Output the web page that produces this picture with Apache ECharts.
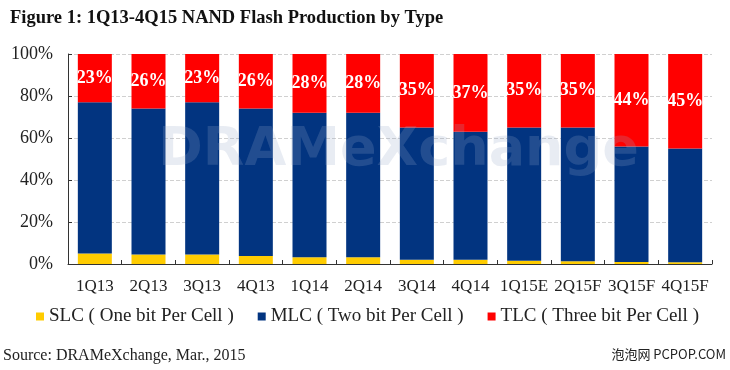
<!DOCTYPE html>
<html>
<head>
<meta charset="utf-8">
<script src="https://cdn.jsdelivr.net/npm/echarts@6/dist/echarts.min.js"></script>
<style>
html,body{margin:0;padding:0;background:#fff;}
#c{width:730px;height:370px;}
</style>
</head>
<body>
<div id="c"></div>
<script>
const categories = ['1Q13','2Q13','3Q13','4Q13','1Q14','2Q14','3Q14','4Q14','1Q15E','2Q15F','3Q15F','4Q15F'];
const slc = [5, 4.5, 4.5, 3.8, 3.2, 3.2, 2, 2, 1.5, 1.3, 1, 0.8];
const mlc = [72, 69.5, 72.5, 70.2, 68.8, 68.8, 63, 61, 63.5, 63.7, 55, 54.2];
const tlc = [23, 26, 23, 26, 28, 28, 35, 37, 35, 35, 44, 45];
const yTicks = [0, 20, 40, 60, 80, 100];
const seriesNames = ['SLC ( One bit Per Cell )', 'MLC ( Two bit Per Cell )', 'TLC ( Three bit Per Cell )'];

const serif = '"Liberation Serif", "DejaVu Serif", serif';
const chart = echarts.init(document.getElementById('c'), null, {renderer: 'canvas'});
chart.setOption({
  animation: false,
  backgroundColor: '#ffffff',
  title: {
    text: 'Figure 1: 1Q13-4Q15 NAND Flash Production by Type',
    left: 5, top: 4,
    textStyle: {fontFamily: serif, fontSize: 18.5, fontWeight: 'bold', color: '#111'}
  },
  graphic: [
    {type: 'text', left: 3, top: 348, style: {text: 'Source: DRAMeXchange, Mar., 2015', font: '16px ' + serif, fill: '#222'}},
    {type: 'text', right: 4, top: 348, style: {text: '泡泡网 PCPOP.COM', font: '13px "Noto Sans CJK SC", "DejaVu Sans", sans-serif', fill: '#222'}},
    {type: 'text', left: 158, top: 124, z: 100, style: {text: 'DRAMeXchange', font: 'bold 54px "DejaVu Sans", sans-serif', fill: 'rgba(150,168,200,0.22)'}}
  ],
  legend: {
    left: 31, top: 302,
    itemWidth: 8, itemHeight: 8, itemGap: 24,
    icon: 'rect',
    textStyle: {fontFamily: serif, fontSize: 19, color: '#222'},
    data: seriesNames
  },
  grid: {left: 68, right: 18, top: 54, bottom: 106, containLabel: false},
  xAxis: {
    type: 'category', data: categories,
    axisLine: {lineStyle: {color: '#333', width: 1}},
    axisTick: {show: true, inside: true, length: 4, lineStyle: {color: '#333'}},
    axisLabel: {fontFamily: serif, fontSize: 17, color: '#222', margin: 14, interval: 0}
  },
  yAxis: {
    type: 'value', min: 0, max: 100, interval: 20,
    axisLine: {show: true, lineStyle: {color: '#333'}},
    axisTick: {show: true, inside: true, length: 4, lineStyle: {color: '#333'}},
    axisLabel: {fontFamily: serif, fontSize: 18, color: '#222', margin: 15,
      formatter: function (v) { return yTicks.indexOf(v) >= 0 ? v + '%' : ''; }},
    splitLine: {show: true, lineStyle: {color: '#d0d0d0', type: 'dashed'}}
  },
  series: [
    {name: seriesNames[0], type: 'bar', stack: 't', data: slc, barWidth: 34, itemStyle: {color: '#FFCC00'}},
    {name: seriesNames[1], type: 'bar', stack: 't', data: mlc, barWidth: 34, itemStyle: {color: '#023480'}},
    {name: seriesNames[2], type: 'bar', stack: 't', data: tlc, barWidth: 34, itemStyle: {color: '#FF0000'},
      label: {show: true, position: 'inside', formatter: '{c}%', color: '#fff',
        fontFamily: serif, fontSize: 18, fontWeight: 'bold'}}
  ]
});
</script>
</body>
</html>
